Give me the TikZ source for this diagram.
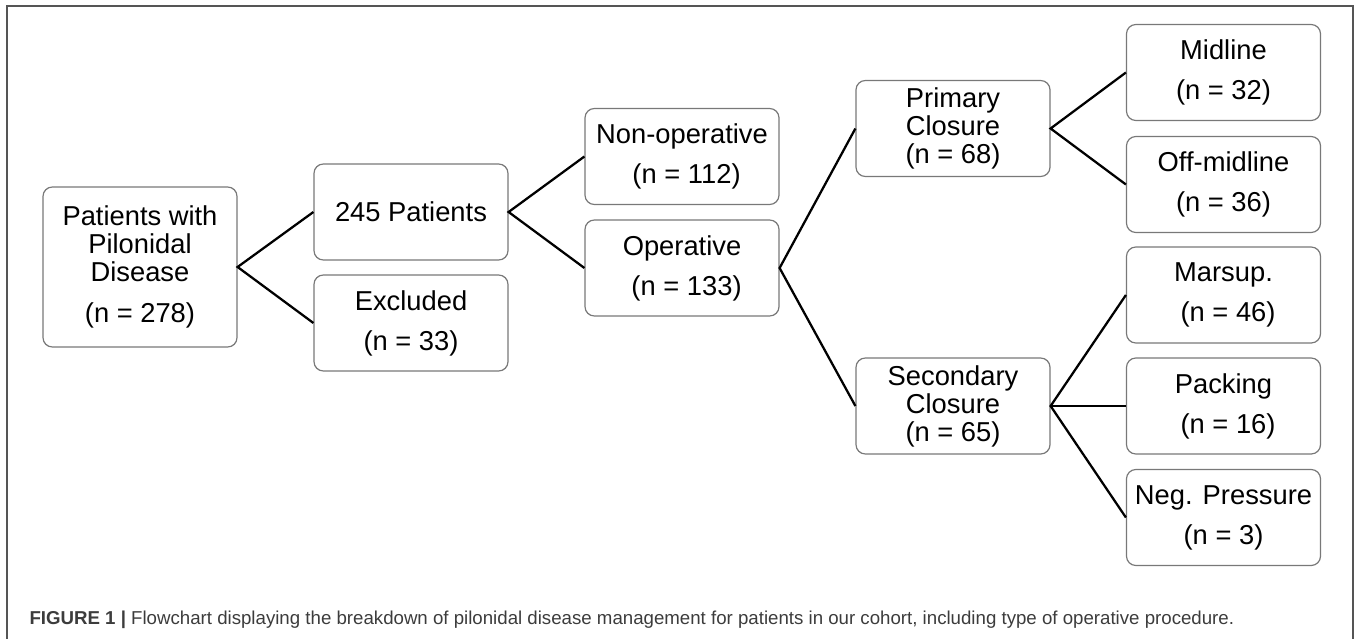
\documentclass[tikz,border=0pt]{standalone}
\usepackage{fontspec}
\setmainfont{Liberation Sans}

\tikzset{every picture/.style={line width=0.75pt}}
\tikzset{
  stagebox/.style={draw={rgb, 255:red, 120; green, 120; blue, 120 }, line width=0.9pt, rounded corners=7pt,
    minimum width=145.5pt, minimum height=72pt, align=center, inner sep=1pt,
    font=\fontsize{20.5}{21}\selectfont},
  branch/.style={line width=1.7pt, color=black},
  frameline/.style={color={rgb, 255:red, 85; green, 85; blue, 85 }, line width=1.1pt}
}

\begin{document}
\begin{tikzpicture}[x=0.75pt,y=0.75pt,yscale=-1,xscale=1]
\useasboundingbox (0,0) rectangle (1357,639);

%Frame
\draw [frameline] (7,645) -- (7,6) -- (1353,6) -- (1353,645) ;

% Boxes
\node [stagebox, minimum height=120pt] (pat) at (140,267) {Patients with\\Pilonidal\\Disease\\[9.75pt](n = 278)};
\node [stagebox] (pts) at (411,212) {245 Patients};
\node [stagebox] (exc) at (411,323) {Excluded\\[9pt](n = 33)};
\node [stagebox] (nonop) at (682,156.5) {Non-operative\\[9pt]\,\,(n = 112)};
\node [stagebox] (oper) at (682,268) {Operative\\[9pt]\,\,(n = 133)};
\node [stagebox] (prim) at (953,128.5) {Primary\\Closure\\(n = 68)};
\node [stagebox] (sec) at (953,406) {Secondary\\Closure\\(n = 65)};
\node [stagebox] (mid) at (1223.5,72.5) {Midline\\[9pt](n = 32)};
\node [stagebox] (off) at (1223.5,184.5) {Off-midline\\[9pt](n = 36)};
\node [stagebox] (mars) at (1223.5,295) {Marsup.\\[9pt]\,\,(n = 46)};
\node [stagebox] (pack) at (1223.5,406) {Packing\\[9pt]\,\,(n = 16)};
\node [stagebox] (neg) at (1223.5,517.5) {Neg. Pressure\\[9pt](n = 3)};

%Straight Lines
\draw [branch] (pts.west) -- (pat.east) -- (exc.west) ;
\draw [branch] (nonop.west) -- (pts.east) -- (oper.west) ;
\draw [branch] (prim.west) -- (oper.east) -- (sec.west) ;
\draw [branch] (mid.west) -- (prim.east) -- (off.west) ;
\draw [branch] (mars.west) -- (sec.east) -- (neg.west) ;
\draw [branch] (sec.east) -- (pack.west) ;

% Text Node
\draw (29,624) node [anchor=base west][inner sep=0pt, color={rgb, 255:red, 60; green, 60; blue, 60 }, font=\fontsize{14}{16}\selectfont]  {\textbf{FIGURE 1 |} Flowchart displaying the breakdown of pilonidal disease management for patients in our cohort, including type of operative procedure.};

\end{tikzpicture}
\end{document}
